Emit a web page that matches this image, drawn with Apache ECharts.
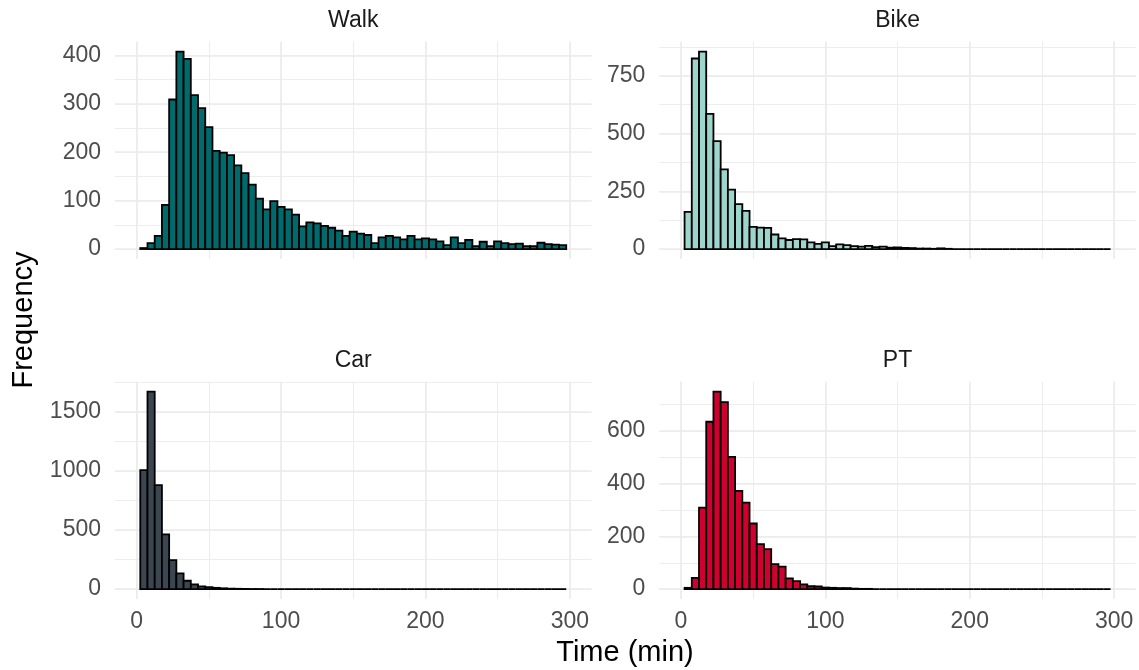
<!DOCTYPE html>
<html>
<head>
<meta charset="utf-8">
<script src="https://cdn.jsdelivr.net/npm/echarts@6/dist/echarts.min.js"></script>
<style>html,body{margin:0;padding:0;background:#ffffff}#chart{width:1139px;height:670px}</style>
</head>
<body>
<div id="chart"></div>
<script>
// ---- data (5-minute bins, centre of each bin in minutes) ----
const binCenters = [5,10,15,20,25,30,35,40,45,50,55,60,65,70,75,80,85,90,95,100,
  105,110,115,120,125,130,135,140,145,150,155,160,165,170,175,180,185,190,195,200,
  205,210,215,220,225,230,235,240,245,250,255,260,265,270,275,280,285,290,295];
const binWidth = 5;
const walkCounts = [2,12,27,91,309,408,393,318,291,252,203,199,194,173,157,133,104,82,99,87,
  82,71,47,55,53,48,44,38,27,36,32,29,12,24,27,24,20,27,20,22,
  20,16,8,24,12,19,6,15,6,16,12,10,11,6,6,13,10,9,8];
const bikeCounts = [161,825,855,585,467,345,257,194,165,96,93,92,63,46,39,43,42,29,22,29,
  13,20,17,13,10,14,8,10,6,7,5,4,2,2,1,3,1,0,0,0,
  0,0,0,0,0,0,0,0,0,0,0,0,0,0,0,0,0,0,0];
const carCounts = [1008,1672,881,463,246,133,71,40,23,17,11,7,4,3,2,1,1,0,0,0,
  0,0,0,0,0,0,0,0,0,0,0,0,0,0,0,0,0,0,0,0,
  0,0,0,0,0,0,0,0,0,0,0,0,0,0,0,0,0,0,0];
const ptCounts = [5,43,309,635,749,709,502,373,328,249,171,152,95,85,41,30,18,11,10,6,
  5,4,4,2,1,1,0,0,0,0,0,0,0,0,0,0,0,0,0,0,
  0,0,0,0,0,0,0,0,0,0,0,0,0,0,0,0,0,0,0];
const panelNames = ['Walk','Bike','Car','PT'];
// tick labels (major) and minor grid positions
const xTicks = [0,100,200,300];
const xMinor = [0,50,100,150,200,250,300];
const walkTicks = [0,100,200,300,400];
const walkMinor = [0,50,100,150,200,250,300,350,400];
const bikeTicks = [0,250,500,750];
const bikeMinor = [0,125,250,375,500,625,750,875];
const carTicks = [0,500,1000,1500];
const carMinor = [0,250,500,750,1000,1250,1500,1750];
const ptTicks = [0,200,400,600];
const ptMinor = [0,100,200,300,400,500,600,700];
const xTitle = 'Time (min)';
const yTitle = 'Frequency';

// ---- layout / style ----
const FONT = '"Liberation Sans", Arial, Helvetica, sans-serif';
const xRange = [-15, 315];
const panels = [
  {name: panelNames[0], counts: walkCounts, ticks: walkTicks, minor: walkMinor, color: '#006a6c', left: 115,   top: 41.7,  showX: false},
  {name: panelNames[1], counts: bikeCounts, ticks: bikeTicks, minor: bikeMinor, color: '#9dd4cc', left: 659.3, top: 41.7,  showX: false},
  {name: panelNames[2], counts: carCounts,  ticks: carTicks,  minor: carMinor,  color: '#3c4650', left: 115,   top: 381.8, showX: true},
  {name: panelNames[3], counts: ptCounts,   ticks: ptTicks,   minor: ptMinor,   color: '#d0002f', left: 659.3, top: 381.8, showX: true}
];
const PW = 476.5, PH = 217.2;
const gridColor = '#ebebeb';

const grids = [], xAxes = [], yAxes = [], series = [], graphics = [];
panels.forEach((p, i) => {
  grids.push({left: p.left, top: p.top, width: PW, height: PH, containLabel: false});
  const m = Math.max.apply(null, p.counts);
  const yMin = -0.05 * m, yMax = 1.05 * m;
  const base = {axisLine: {show: false}};
  const fmt = v => String(v);
  // major x
  xAxes.push(Object.assign({
    type: 'value', gridIndex: i, position: 'bottom', min: xRange[0], max: xRange[1],
    axisTick: {show: false, customValues: xTicks},
    axisLabel: {show: p.showX, customValues: xTicks, formatter: fmt, color: '#4d4d4d', fontSize: 23, fontFamily: FONT, margin: 11},
    splitLine: {show: true, lineStyle: {color: gridColor, width: 1.6}}
  }, base));
  // minor x
  xAxes.push(Object.assign({
    type: 'value', gridIndex: i, position: 'top', min: xRange[0], max: xRange[1],
    axisTick: {show: false, customValues: xMinor},
    axisLabel: {show: false, customValues: xMinor},
    splitLine: {show: true, lineStyle: {color: gridColor, width: 0.9}}
  }, base));
  // major y
  yAxes.push(Object.assign({
    type: 'value', gridIndex: i, position: 'left', min: yMin, max: yMax,
    axisTick: {show: false, customValues: p.ticks},
    axisLabel: {show: true, customValues: p.ticks, formatter: fmt, color: '#4d4d4d', fontSize: 23, fontFamily: FONT, margin: 14},
    splitLine: {show: true, lineStyle: {color: gridColor, width: 1.6}}
  }, base));
  // minor y
  yAxes.push(Object.assign({
    type: 'value', gridIndex: i, position: 'right', min: yMin, max: yMax,
    axisTick: {show: false, customValues: p.minor},
    axisLabel: {show: false, customValues: p.minor},
    splitLine: {show: true, lineStyle: {color: gridColor, width: 0.9}}
  }, base));

  const color = p.color;
  series.push({
    type: 'custom', name: p.name, xAxisIndex: 2 * i, yAxisIndex: 2 * i,
    data: binCenters.map((c, j) => [c, p.counts[j]]),
    encode: {x: 0, y: 1},
    renderItem: (params, api) => {
      const c = api.value(0), v = api.value(1);
      const a = api.coord([c - binWidth / 2, v]);
      const b = api.coord([c + binWidth / 2, 0]);
      return {
        type: 'rect',
        shape: {x: a[0], y: a[1], width: b[0] - a[0], height: b[1] - a[1]},
        style: {fill: color, stroke: '#000000', lineWidth: 1.8}
      };
    },
    silent: true, animation: false
  });

  graphics.push({
    type: 'text', x: p.left + PW / 2, y: p.top - 21.5,
    style: {text: p.name, fill: '#1a1a1a', font: '23px ' + FONT, align: 'center', verticalAlign: 'middle'}
  });
});

graphics.push({
  type: 'text', x: 625, y: 653,
  style: {text: xTitle, fill: '#000000', font: '29px ' + FONT, align: 'center', verticalAlign: 'middle'}
});
graphics.push({
  type: 'text', x: 24, y: 320, rotation: Math.PI / 2,
  style: {text: yTitle, fill: '#000000', font: '29px ' + FONT, align: 'center', verticalAlign: 'middle'}
});

const chart = echarts.init(document.getElementById('chart'), null, {renderer: 'canvas'});
chart.setOption({
  backgroundColor: '#ffffff',
  animation: false,
  grid: grids,
  xAxis: xAxes,
  yAxis: yAxes,
  series: series,
  graphic: graphics
});
</script>
</body>
</html>
